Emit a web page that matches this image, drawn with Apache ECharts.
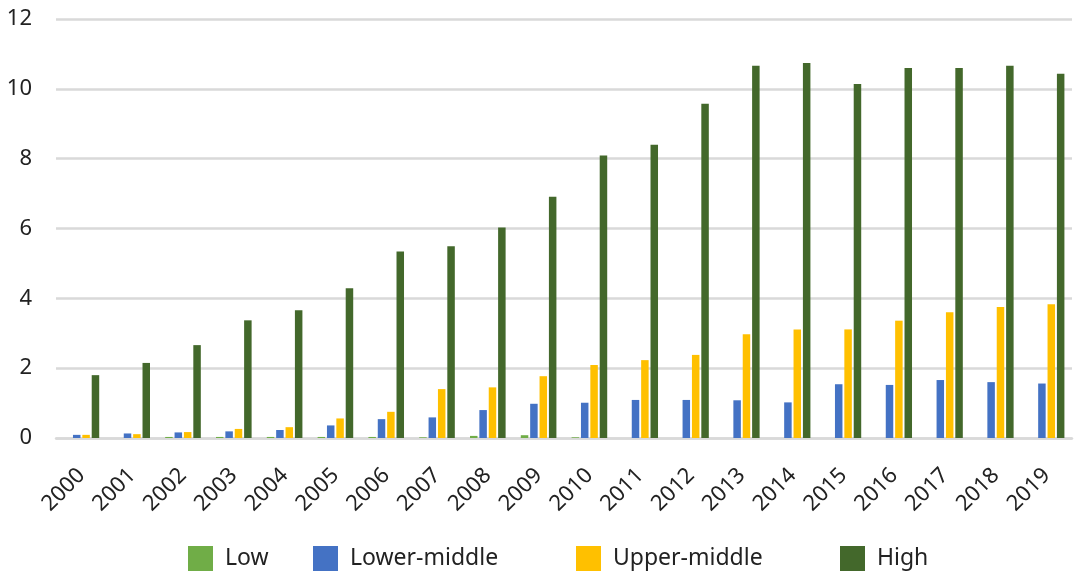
<!DOCTYPE html>
<html>
<head>
<meta charset="utf-8">
<script src="https://cdn.jsdelivr.net/npm/echarts@6/dist/echarts.min.js"></script>
<style>
  html, body { margin: 0; padding: 0; background: #fff; }
  #chart { width: 1075px; height: 572px; }
</style>
</head>
<body>
<div id="chart"></div>
<script>
const years = ['2000', '2001', '2002', '2003', '2004', '2005', '2006', '2007', '2008', '2009',
  '2010', '2011', '2012', '2013', '2014', '2015', '2016', '2017', '2018', '2019']

const low = [0, 0, 0.03, 0.03, 0.03, 0.03, 0.03, 0.02, 0.06, 0.08,
  0.02, 0, 0, 0, 0, 0, 0, 0, 0, 0]
const lowerMiddle = [0.09, 0.13, 0.16, 0.19, 0.23, 0.36, 0.54, 0.59, 0.8, 0.98,
  1.01, 1.09, 1.09, 1.08, 1.02, 1.54, 1.52, 1.66, 1.6, 1.56]
const upperMiddle = [0.09, 0.11, 0.17, 0.26, 0.31, 0.56, 0.75, 1.4, 1.45, 1.77,
  2.09, 2.23, 2.38, 2.97, 3.11, 3.11, 3.36, 3.6, 3.75, 3.83]
const high = [1.8, 2.15, 2.66, 3.37, 3.66, 4.29, 5.34, 5.49, 6.03, 6.91,
  8.09, 8.4, 9.57, 10.66, 10.74, 10.14, 10.6, 10.6, 10.66, 10.43]

const yTicks = [0, 2, 4, 6, 8, 10, 12]

const font = '"Noto Sans", sans-serif'

const seriesList = [
  { name: 'Low', color: '#70ad47', data: low, legendLeft: 188 },
  { name: 'Lower-middle', color: '#4472c4', data: lowerMiddle, legendLeft: 313 },
  { name: 'Upper-middle', color: '#ffc000', data: upperMiddle, legendLeft: 576 },
  { name: 'High', color: '#43682b', data: high, legendLeft: 840 }
]

const chart = echarts.init(document.getElementById('chart'))

chart.setOption({
  animation: false,
  backgroundColor: '#fff',

  // one legend per key so each sits where the original puts it
  legend: seriesList.map(s => ({
    top: 546,
    left: s.legendLeft,
    padding: 0,
    itemWidth: 25,
    itemHeight: 25,
    icon: 'rect',
    selectedMode: false,
    textStyle: {
      color: '#222',
      fontSize: 23,
      fontFamily: font,
      padding: [0, 0, 0, 7]
    },
    data: [s.name]
  })),

  grid: {
    left: 56,
    right: 3,
    top: 19,
    bottom: 134,
    containLabel: false,
    outerBoundsMode: 'none'
  },

  xAxis: {
    type: 'category',
    data: years,
    axisLine: {
      lineStyle: { color: '#d9d9d9', width: 2.5 }
    },
    axisTick: { show: false },
    axisLabel: {
      rotate: 45,
      margin: 34,
      color: '#222',
      fontSize: 22,
      fontFamily: font
    }
  },

  yAxis: {
    type: 'value',
    min: yTicks[0],
    max: yTicks[yTicks.length - 1],
    interval: 2,
    axisLine: { show: false },
    axisTick: { show: false },
    axisLabel: {
      margin: 24,
      color: '#222',
      fontSize: 22,
      fontFamily: font
    },
    splitLine: {
      lineStyle: { color: '#d9d9d9', width: 2.5 }
    }
  },

  series: seriesList.map(s => ({
    name: s.name,
    type: 'bar',
    data: s.data,
    barWidth: 7.5,
    barGap: '25%',
    itemStyle: { color: s.color }
  }))
})
</script>
</body>
</html>
